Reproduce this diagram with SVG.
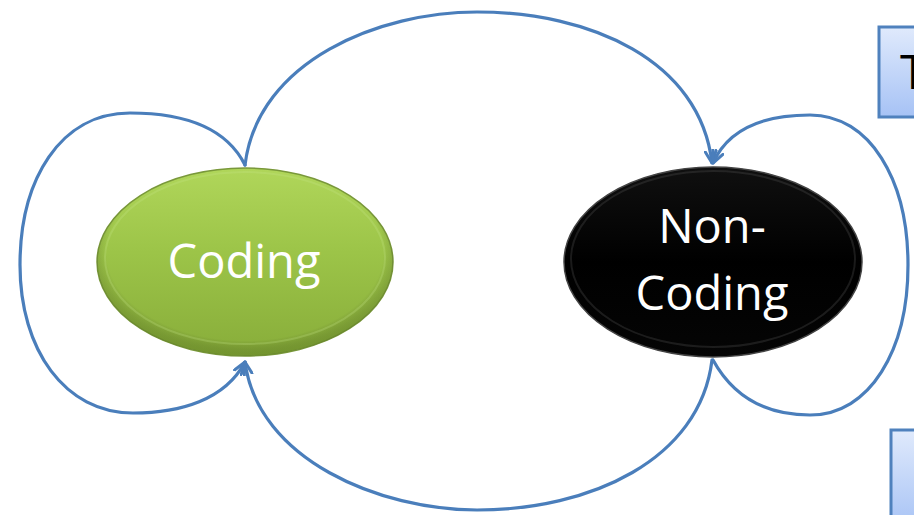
<svg xmlns="http://www.w3.org/2000/svg" width="914" height="515" viewBox="0 0 914 515">
  <style>
    .conn { fill: none; stroke: #4a7ebb; stroke-width: 3.2; stroke-linecap: round; }
    .label { font-family: "Open Sans", "Liberation Sans", sans-serif; font-size: 47px; fill: #ffffff; text-anchor: middle; }
    .box { stroke: #4f81bd; stroke-width: 3; fill: url(#boxGrad); }
  </style>
  <defs>
    <marker id="arrow" viewBox="0 0 14 14" refX="13" refY="7" markerWidth="14" markerHeight="14" markerUnits="userSpaceOnUse" orient="auto">
      <path d="M1,1.5 L13,7 L1,12.5" fill="none" stroke="#4a7ebb" stroke-width="3" stroke-linecap="round" stroke-linejoin="round"/>
    </marker>
    <linearGradient id="greenGrad" x1="0" y1="0" x2="0" y2="1">
      <stop offset="0" stop-color="#b0d65a"/>
      <stop offset="0.45" stop-color="#9cc448"/>
      <stop offset="1" stop-color="#88ad3a"/>
    </linearGradient>
    <radialGradient id="greenEdge" cx="0.5" cy="0.45" r="0.55">
      <stop offset="0.85" stop-color="#000" stop-opacity="0"/>
      <stop offset="1" stop-color="#4e6b18" stop-opacity="0.35"/>
    </radialGradient>
    <linearGradient id="blackGrad" x1="0" y1="0" x2="0" y2="1">
      <stop offset="0" stop-color="#101010"/>
      <stop offset="0.5" stop-color="#000000"/>
      <stop offset="1" stop-color="#050505"/>
    </linearGradient>
    <linearGradient id="boxGrad" x1="0" y1="0" x2="0" y2="1">
      <stop offset="0" stop-color="#e0eafc"/>
      <stop offset="1" stop-color="#a6c2f5"/>
    </linearGradient>
  </defs>

  <g id="box-top">
    <rect class="box" x="879" y="27" width="60" height="90"/>
    <text x="900" y="89" font-family="'Open Sans', 'Liberation Sans', sans-serif" font-size="48" fill="#000000">T</text>
  </g>
  <g id="box-bottom">
    <rect class="box" x="891" y="430" width="60" height="100"/>
  </g>

  <g id="coding">
    <ellipse cx="245" cy="262" rx="148" ry="94" fill="url(#greenGrad)" stroke="#79983a" stroke-width="1.5"/>
    <ellipse cx="245" cy="262" rx="148" ry="94" fill="url(#greenEdge)"/>
    <ellipse cx="245" cy="258" rx="140" ry="86" fill="none" stroke="#c8e68a" stroke-opacity="0.25" stroke-width="2"/>
    <text class="label" x="244" y="278">Coding</text>
  </g>

  <g id="non-coding">
    <ellipse cx="713" cy="262" rx="149" ry="95" fill="url(#blackGrad)" stroke="#444444" stroke-width="1.5"/>
    <ellipse cx="713" cy="259" rx="142" ry="88" fill="none" stroke="#555555" stroke-opacity="0.3" stroke-width="2"/>
    <text class="label" x="712" y="243">Non-</text>
    <text class="label" x="712" y="310">Coding</text>
  </g>

  <g id="connectors">
    <path class="conn" d="M245,165 C258,60 380,12 477,12 C590,12 700,60 712,163" marker-end="url(#arrow)"/>
    <path class="conn" d="M712,360 C700,460 590,510 477,510 C380,510 258,460 245,362" marker-end="url(#arrow)"/>
    <path class="conn" d="M245,165 C225,125 180,113 130,113 C60,113 20,180 20,265 C20,350 65,413 133,413 C180,413 225,400 245,362" marker-end="url(#arrow)"/>
    <path class="conn" d="M713,360 C735,400 770,415 810,415 C870,415 908,350 908,265 C908,180 870,115 810,115 C770,115 730,125 713,163" marker-end="url(#arrow)"/>
  </g>
</svg>
